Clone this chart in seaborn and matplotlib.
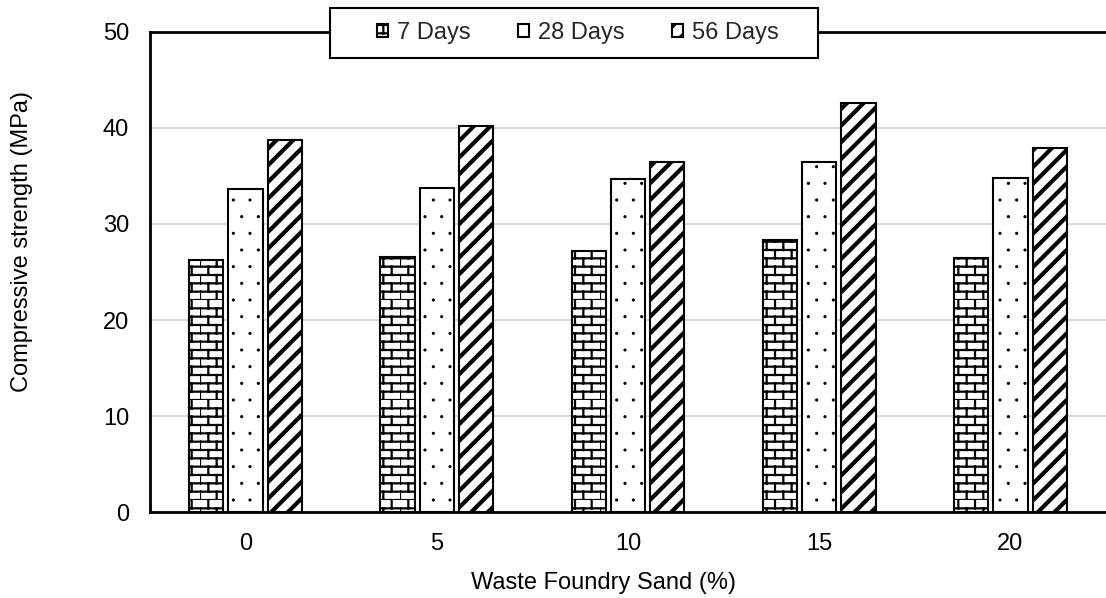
import warnings
import numpy as np
import pandas as pd
import matplotlib
matplotlib.use("Agg")
import matplotlib.pyplot as plt
import matplotlib.hatch as mhatch
from matplotlib.path import Path
from matplotlib.patches import Rectangle
import seaborn as sns

warnings.filterwarnings("ignore")

# dados
wfs = ["0", "5", "10", "15", "20"]
idades = ["7 Days", "28 Days", "56 Days"]
dias_7 = [26.3, 26.6, 27.2, 28.3, 26.5]
dias_28 = [33.6, 33.8, 34.7, 36.5, 34.8]
dias_56 = [38.7, 40.2, 36.5, 42.6, 37.9]


# hachura tipo tijolo (nao existe no matplotlib)
class BrickHatch(mhatch.HatchPatternBase):
    def __init__(self, hatch, density):
        n = hatch.count("b")
        self.rows = int(n * density * 2)
        self.cols = int(n * density)
        self.num_vertices = self.rows * 2 + self.rows * self.cols * 2

    def set_vertices_and_codes(self, vertices, codes):
        i = 0
        for r in range(self.rows):
            y = r / self.rows
            vertices[i] = (0.0, y)
            vertices[i + 1] = (1.0, y)
            codes[i] = Path.MOVETO
            codes[i + 1] = Path.LINETO
            i += 2
        for r in range(self.rows):
            y0 = r / self.rows
            y1 = (r + 1) / self.rows
            off = 0.5 / self.cols if r % 2 else 0.0
            for c in range(self.cols):
                x = c / self.cols + off
                vertices[i] = (x, y0)
                vertices[i + 1] = (x, y1)
                codes[i] = Path.MOVETO
                codes[i + 1] = Path.LINETO
                i += 2


# pontinhos menores que o '.' padrao
class TinyDots(mhatch.Circles):
    size = 0.06
    filled = True

    def __init__(self, hatch, density):
        self.num_rows = hatch.count("d") * density
        super().__init__(hatch, density)


mhatch._hatch_types.append(BrickHatch)
mhatch._hatch_types.append(TinyDots)

df = pd.DataFrame({
    "wfs": wfs * 3,
    "idade": [idades[0]] * 5 + [idades[1]] * 5 + [idades[2]] * 5,
    "valor": dias_7 + dias_28 + dias_56,
})

sns.set_style("white")
plt.rcParams["font.family"] = ["Liberation Sans", "DejaVu Sans"]
plt.rcParams["hatch.linewidth"] = 1.6

fig = plt.figure(figsize=(11.06, 5.98), dpi=100)
ax = fig.add_axes([0.1356, 0.1438, 0.8644, 0.8027])

sns.barplot(data=df, x="wfs", y="valor", hue="idade", order=wfs,
            hue_order=idades, palette=["white"] * 3, edgecolor="black",
            linewidth=1.5, width=0.617, gap=0.13, errorbar=None, ax=ax)

hachuras = ["b", "d", "//"]
for cont, h in zip(ax.containers, hachuras):
    for p in cont.patches:
        p.set_hatch(h)
        if h == "//" and hasattr(p, "set_hatch_linewidth"):
            p.set_hatch_linewidth(3.0)
        if h == "d" and hasattr(p, "set_hatch_linewidth"):
            p.set_hatch_linewidth(0.8)

ax.set_xlim(-0.5, 4.5)
ax.set_ylim(0, 50)
ax.set_yticks([0, 10, 20, 30, 40, 50])
ax.yaxis.grid(True, color="#d9d9d9", linewidth=1.5)
ax.set_axisbelow(True)
ax.tick_params(axis="both", length=0, labelsize=17, labelcolor="black")
ax.tick_params(axis="x", pad=15)
ax.tick_params(axis="y", pad=15)

for lado in ["left", "bottom", "top"]:
    ax.spines[lado].set_visible(True)
    ax.spines[lado].set_color("black")
    ax.spines[lado].set_linewidth(2)
ax.spines["right"].set_visible(False)

ax.set_xlabel("Waste Foundry Sand (%)", fontsize=17, color="black")
ax.set_ylabel("Compressive strength (MPa)", fontsize=17, color="black")
ax.xaxis.set_label_coords(0.474, -0.125)
ax.yaxis.set_label_coords(-0.1224, 0.5625)

ax.get_legend().remove()

# caixa da legenda por cima da linha superior
caixa = Rectangle((330 / 1106, 1 - 58 / 598), 488 / 1106, 50 / 598,
                  transform=fig.transFigure, facecolor="white",
                  edgecolor="black", linewidth=1.5, zorder=3)
fig.patches.append(caixa)

handles = [c.patches[0] for c in ax.containers]
leg = fig.legend(handles, idades, loc="center", bbox_to_anchor=(0.5226, 0.9448),
                 ncol=3, fontsize=17, frameon=False, handlelength=0.45,
                 handleheight=0.45, handletextpad=0.4, columnspacing=2.0,
                 borderpad=0, borderaxespad=0)
leg.set_zorder(6)

fig.savefig("out.png", dpi=100)
